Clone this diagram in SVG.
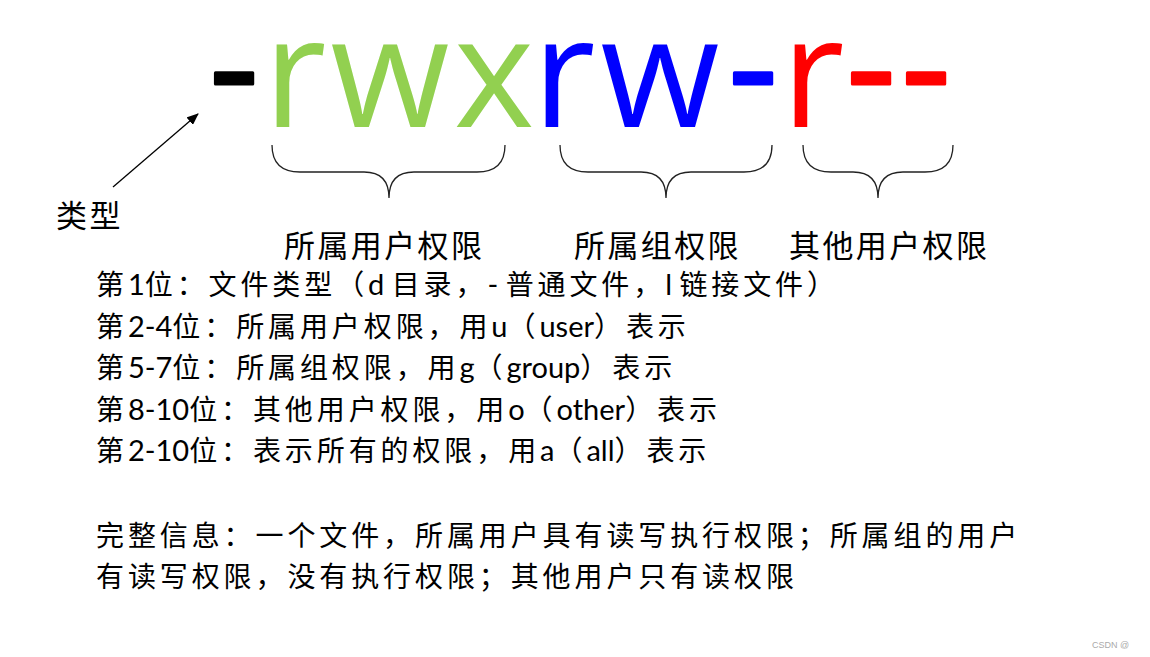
<svg xmlns="http://www.w3.org/2000/svg" width="1150" height="657" viewBox="0 0 1150 657">
<style>
.big{font-family:"Open Sans","Liberation Sans",sans-serif;font-size:154px;text-anchor:middle}
.dash{stroke-width:3;stroke-linejoin:round}
.g{fill:#92D050}.b{fill:#0000FF;stroke:#0000FF}.bl{fill:#0000FF}.r{fill:#FF0000}.rd{fill:#FF0000;stroke:#FF0000}.k{fill:#000;stroke:#000}
.lbl{font-family:"Noto Sans CJK SC",sans-serif;font-size:31px;letter-spacing:2.4px;fill:#000}
.body{font-family:"Noto Sans CJK SC",sans-serif;font-size:28px;letter-spacing:3.9px;fill:#000}
.lat{font-family:Lato,"Liberation Sans",sans-serif;font-size:29px;letter-spacing:0}
.brace{fill:none;stroke:#222;stroke-width:1.3}
.wm{font-family:"Liberation Sans",sans-serif;font-size:9px;fill:#aaa}
</style>
<defs>
<marker id="ah" viewBox="0 0 12 10" refX="11" refY="5" markerWidth="12" markerHeight="10" markerUnits="userSpaceOnUse" orient="auto">
<path d="M0,0 L12,5 L0,10 z" fill="#000"/>
</marker>
</defs>
<g id="perm-string">
<text class="big k dash" x="234" y="120">-</text>
<text class="big g" x="295" y="127">r</text>
<text class="big g" x="390" y="127">w</text>
<text class="big g" x="494" y="127">x</text>
<text class="big bl" x="564" y="127">r</text>
<text class="big bl" x="660" y="127">w</text>
<text class="big b dash" x="753" y="120">-</text>
<text class="big r" x="813" y="127">r</text>
<text class="big rd dash" x="871" y="120">-</text>
<text class="big rd dash" x="926" y="120">-</text>
</g>
<g id="connectors">
<line x1="113" y1="187" x2="198" y2="114" stroke="#000" stroke-width="1.3" marker-end="url(#ah)"/>
<path class="brace" d="M272,145 C272,162 280,172 300,172 L364,172 C380,172 389,180 389,198 C389,180 398,172 414,172 L477,172 C497,172 505,162 505,145"/>
<path class="brace" d="M560,145 C560,162 568,172 588,172 L641,172 C657,172 666,180 666,198 C666,180 675,172 691,172 L744,172 C764,172 772,162 772,145"/>
<path class="brace" d="M803,145 C803,162 811,172 831,172 L853,172 C869,172 878,180 878,198 C878,180 887,172 903,172 L925,172 C945,172 953,162 953,145"/>
</g>
<g id="type-label"><text class="lbl" x="56" y="227">类型</text></g>
<g id="user-label"><text class="lbl" x="284" y="257">所属用户权限</text></g>
<g id="group-label"><text class="lbl" x="574" y="257">所属组权限</text></g>
<g id="other-label"><text class="lbl" x="789" y="257">其他用户权限</text></g>
<g id="description">
<text class="body" x="96" y="295">第<tspan class="lat">1</tspan>位：文件类型（<tspan class="lat">d </tspan>目录，<tspan class="lat">- </tspan>普通文件，<tspan class="lat">l </tspan>链接文件）</text>
<text class="body" x="96" y="336.5">第<tspan class="lat">2-4</tspan>位：所属用户权限，用<tspan class="lat">u</tspan>（<tspan class="lat">user</tspan>）表示</text>
<text class="body" x="96" y="378">第<tspan class="lat">5-7</tspan>位：所属组权限，用<tspan class="lat">g</tspan>（<tspan class="lat">group</tspan>）表示</text>
<text class="body" x="96" y="419.5">第<tspan class="lat">8-10</tspan>位：其他用户权限，用<tspan class="lat">o</tspan>（<tspan class="lat">other</tspan>）表示</text>
<text class="body" x="96" y="461">第<tspan class="lat">2-10</tspan>位：表示所有的权限，用<tspan class="lat">a</tspan>（<tspan class="lat">all</tspan>）表示</text>
<text class="body" x="96" y="546">完整信息：一个文件，所属用户具有读写执行权限；所属组的用户</text>
<text class="body" x="96" y="587">有读写权限，没有执行权限；其他用户只有读权限</text>
</g>
<text class="wm" x="1092" y="648">CSDN @</text>
</svg>
